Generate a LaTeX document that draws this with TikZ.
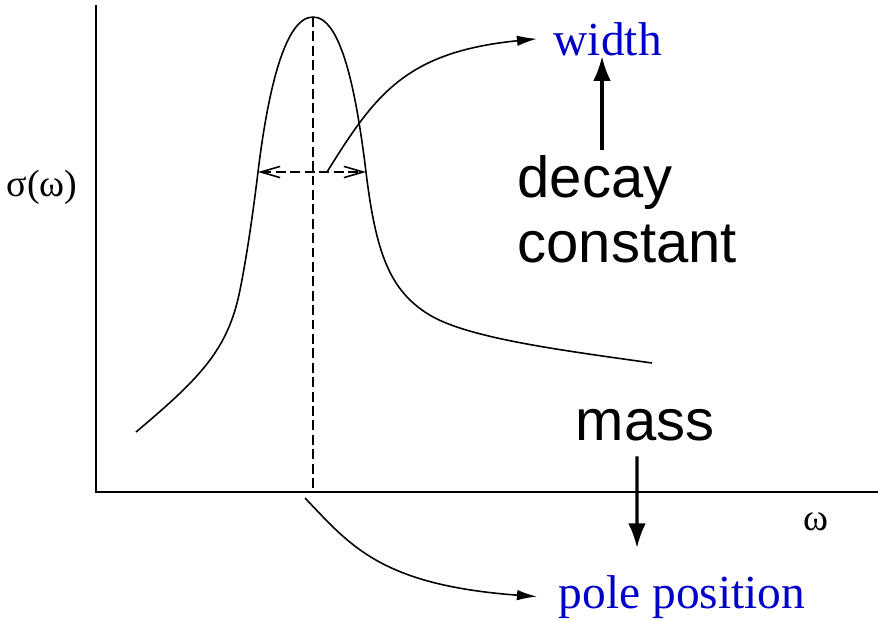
\documentclass[tikz,border=0pt]{standalone}
\usepackage{fontspec}
\setmainfont{Liberation Serif}
\setsansfont{Liberation Sans}
\usetikzlibrary{arrows.meta}
\definecolor{labelblue}{HTML}{0000C8}

\begin{document}
\begin{tikzpicture}[x=0.1mm, y=-0.1mm,
    axis/.style={draw=black, line width=0.65pt},
    curve/.style={draw=black, line width=0.45pt},
    guide/.style={draw=black, line width=0.45pt, dash pattern=on 2.8pt off 1.3pt},
    halfwidth/.style={guide, {Straight Barb[length=5.5pt,width=3.2pt]}-{Straight Barb[length=5.5pt,width=3.2pt]}},
    pointer/.style={draw=black, line width=0.45pt, -{Latex[length=5.7pt,width=3pt]}},
    bold/.style={draw=black, line width=0.9pt, -{Latex[length=7pt,width=5pt]}},
    big/.style={font=\sffamily\fontsize{16.5}{18.5}\selectfont, inner sep=0pt, align=left},
    quantity/.style={font=\fontsize{13.5}{16}\selectfont, text=labelblue, inner ysep=0pt},
    axlbl/.style={font=\fontsize{10.8}{12}\selectfont, inner sep=0pt},
  ]
  \useasboundingbox (0,0) rectangle (880,619);

  % ================= axes and the resonance peak
  \coordinate (origin) at (96,492);
  \draw[axis] (96,5) -- (origin) -- (878,492);
  \node[axlbl] (ylabel) at (42,187) {σ(ω)};
  \node[axlbl] (xlabel) at (816,522) {ω};

  \coordinate (peak) at (313,17);
  \coordinate (halfL) at (258,172);
  \coordinate (halfR) at (366,172);
  \draw[curve] (136,432) .. controls (200,378) and (228,350) .. (240,290)
    .. controls (247,255) and (253,213) .. (halfL)
    .. controls (268,90) and (285,17) .. (peak)
    .. controls (341,17) and (356,90) .. (halfR)
    .. controls (376,254) and (390,290) .. (428,314)
    .. controls (466,338) and (560,350) .. (652,363);

  % peak position and full width at half maximum
  \draw[guide] (peak) -- (peak |- origin);
  \draw[halfwidth] (halfL) -- (halfR);

  % ================= labels on the right
  \node[quantity, anchor=base west, inner xsep=1.6mm] (width) at (537,55) {width};
  \node[quantity, anchor=base west, inner xsep=2.1mm] (pole) at (537,608) {pole position};
  \node[big, anchor=north west] (decay) at (517,155) {decay\\constant};
  \node[big, anchor=base] (mass) at (645,440) {mass};

  % ================= pointers
  \coordinate (fwhm) at (327,172);
  \draw[pointer] (fwhm) .. controls (375,95) and (405,52) .. (width.west);
  \coordinate (polefoot) at (305,498);
  \draw[pointer] (polefoot) .. controls (350,545) and (380,585) .. (pole.west);

  \coordinate (decaytop) at (602,150);
  \draw[bold] (decaytop) -- (width.south -| decaytop);
  \coordinate (massend) at (637,548);
  \draw[bold] ([xshift=-0.8mm, yshift=-1.5mm]mass.south) -- (massend);
\end{tikzpicture}
\end{document}
